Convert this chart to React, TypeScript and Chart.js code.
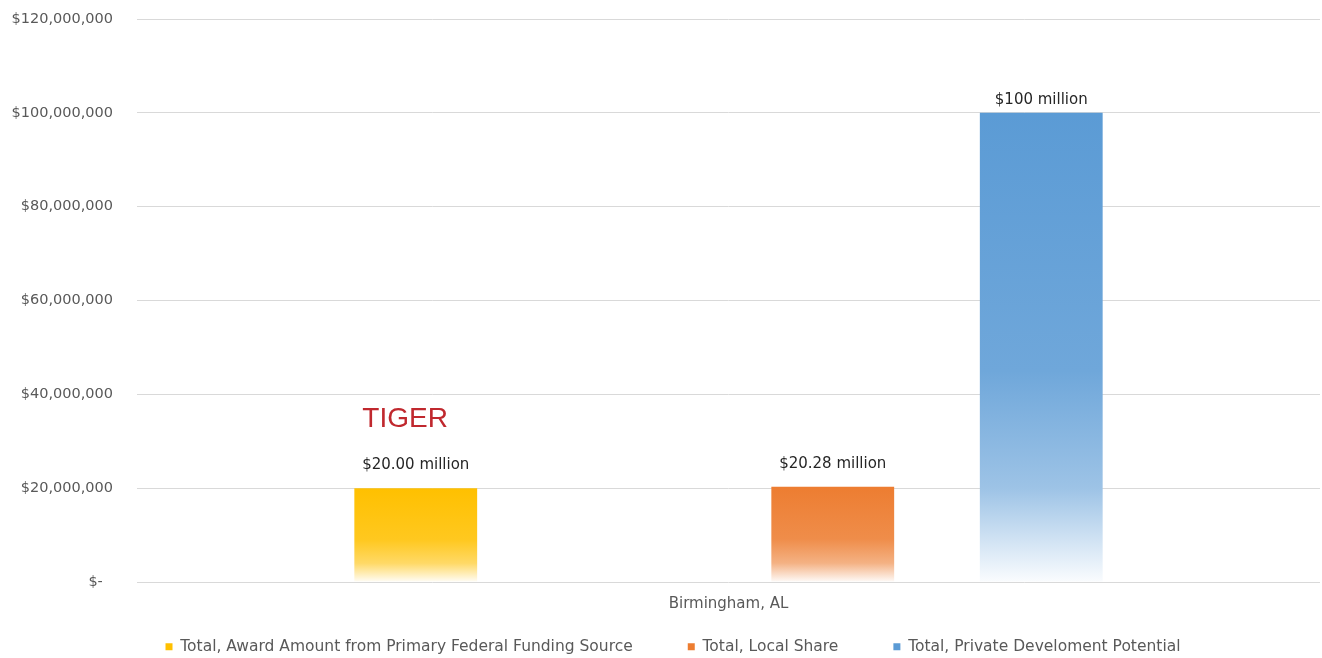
import React, { useEffect, useRef } from "react";
import { Chart, registerables } from "chart.js";

Chart.register(...registerables);

// ---- data ----
const categories = ["Birmingham, AL"];
const seriesNames = [
  "Total, Award Amount from Primary Federal Funding Source",
  "",
  "Total, Local Share",
  "Total, Private Develoment Potential",
];
const awardValues = [20000000];
const spacerValues = [null];
const localShareValues = [20280000];
const privateValues = [100000000];
const seriesValues = [awardValues, spacerValues, localShareValues, privateValues];
const barLabelTexts = [["$20.00 million"], [""], ["$20.28 million"], ["$100 million"]];
const yTickLabels = [
  "$-\u2002\u2009",
  "$20,000,000",
  "$40,000,000",
  "$60,000,000",
  "$80,000,000",
  "$100,000,000",
  "$120,000,000",
];
const yMax = 120000000;
const yStep = 20000000;
const annotationText = "TIGER";

// ---- styles ----
const seriesColors = ["#FFC000", "#FFFFFF", "#ED7D31", "#5B9BD5"];
const labelBaselineOffsets = [19, 0, 19, 9];
const annotationBaselineOffset = 61;
const FONT = "'DejaVu Sans', sans-serif";
const LEGEND_PADDING = 55;
const LEGEND_SHIFT = 29;
const LEGEND_LEFT_INSET = 14;

function hexToRgb(hex: string) {
  const h = hex.replace("#", "");
  return [parseInt(h.slice(0, 2), 16), parseInt(h.slice(2, 4), 16), parseInt(h.slice(4, 6), 16)];
}
function mixWhite(hex: string, t: number) {
  const [r, g, b] = hexToRgb(hex);
  const m = (c: number) => Math.round(255 - (255 - c) * t);
  return `rgb(${m(r)},${m(g)},${m(b)})`;
}

const barLabelPlugin = {
  id: "barLabelPlugin",
  afterLayout(chart: any) {
    const L = chart.legend;
    if (L) {
      L.top -= LEGEND_SHIFT;
      L.left += LEGEND_LEFT_INSET;
    }
  },
  afterDatasetsDraw(chart: any) {
    const ctx = chart.ctx;
    ctx.save();
    chart.data.datasets.forEach((_ds: any, di: number) => {
      const meta = chart.getDatasetMeta(di);
      meta.data.forEach((bar: any, i: number) => {
        const text = barLabelTexts[di][i];
        if (!text) return;
        const { x, y, width } = bar.getProps(["x", "y", "width"], true);
        ctx.font = `15px ${FONT}`;
        ctx.fillStyle = "#262626";
        ctx.textAlign = "center";
        ctx.textBaseline = "alphabetic";
        ctx.fillText(text, x, y - labelBaselineOffsets[di]);
        if (di === 0 && i === 0) {
          ctx.font = "28px 'Liberation Sans', Arial, sans-serif";
          ctx.fillStyle = "#C0282E";
          ctx.textAlign = "left";
          ctx.fillText(annotationText, x - width / 2 + 8, y - annotationBaselineOffset);
        }
      });
    });
    ctx.restore();
  },
};

export default function App() {
  const canvasRef = useRef<HTMLCanvasElement | null>(null);

  useEffect(() => {
    if (!canvasRef.current) return;
    const datasets = seriesNames.map((name, di) => ({
      label: name,
      data: seriesValues[di],
      borderWidth: 0,
      backgroundColor: (c: any) => {
        const base = seriesColors[di];
        if (c.type !== "data") return base;
        const ys = c.chart.scales && c.chart.scales.y;
        if (!ys || c.raw == null) return base;
        const top = ys.getPixelForValue(c.raw);
        const bottom = ys.getPixelForValue(0);
        if (!isFinite(top) || !isFinite(bottom) || bottom - top < 1) return base;
        const g = c.chart.ctx.createLinearGradient(0, top, 0, bottom);
        g.addColorStop(0, mixWhite(base, 1));
        g.addColorStop(0.55, mixWhite(base, 0.88));
        g.addColorStop(0.8, mixWhite(base, 0.6));
        g.addColorStop(1, mixWhite(base, 0.03));
        return g;
      },
    }));

    const chart = new Chart(canvasRef.current, {
      type: "bar",
      data: { labels: categories, datasets },
      plugins: [barLabelPlugin],
      options: {
        animation: false,
        responsive: true,
        maintainAspectRatio: false,
        layout: { padding: { left: 12, right: 2, top: 19, bottom: 0 } },
        datasets: {
          bar: { categoryPercentage: 0.705, barPercentage: 0.589 },
        },
        plugins: {
          tooltip: { enabled: false },
          legend: {
            position: "bottom",
            maxHeight: 45,
            labels: {
              boxWidth: 7,
              boxHeight: 7,
              padding: LEGEND_PADDING,
              color: "#595959",
              font: { family: FONT, size: 15.5 },
              filter: (item: any) => item.text !== "",
              generateLabels: (chart: any) => {
                const items = Chart.defaults.plugins.legend.labels.generateLabels(chart);
                return items.map((it: any) => ({
                  ...it,
                  fillStyle: seriesColors[it.datasetIndex],
                  strokeStyle: seriesColors[it.datasetIndex],
                  lineWidth: 0,
                }));
              },
            },
          },
        },
        scales: {
          x: {
            grid: { display: false, drawTicks: false },
            border: { display: false },
            ticks: { color: "#595959", font: { family: FONT, size: 15 }, padding: 13 },
            afterFit: (s: any) => {
              s.height = 31;
            },
          },
          y: {
            min: 0,
            max: yMax,
            grid: { color: "#D9D9D9", drawTicks: true, tickLength: 24, tickColor: "rgba(0,0,0,0)" },
            border: { display: false },
            ticks: {
              stepSize: yStep,
              padding: 0,
              color: "#595959",
              font: { family: FONT, size: 14.5 },
              callback: (v: any) => yTickLabels[Math.round(Number(v) / yStep)] ?? "",
            },
            afterFit: (s: any) => {
              s.width = 125;
            },
          },
        },
      },
    });
    return () => chart.destroy();
  }, []);

  return (
    <div style={{ position: "absolute", left: 0, top: 0, width: 1322, height: 658, background: "#fff" }}>
      <canvas ref={canvasRef} />
    </div>
  );
}
